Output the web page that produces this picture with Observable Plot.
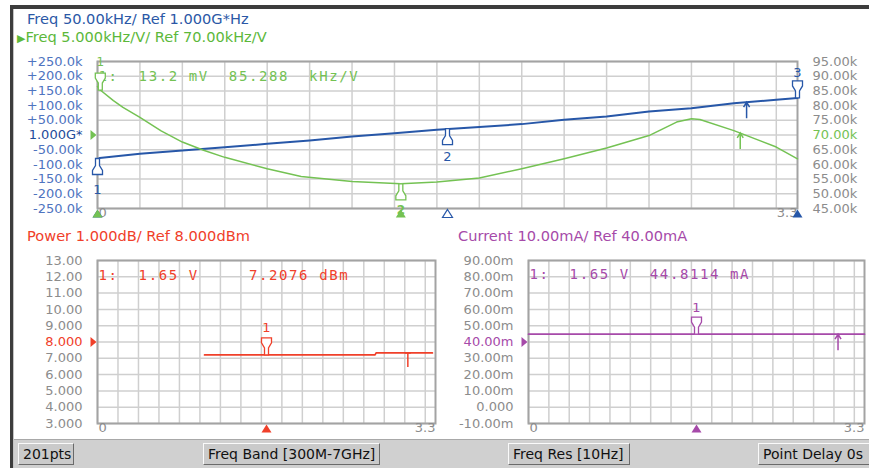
<!DOCTYPE html>
<html><head><meta charset="utf-8">
<script src="https://cdn.jsdelivr.net/npm/d3@7"></script>
<script src="https://cdn.jsdelivr.net/npm/@observablehq/plot@0.6"></script>
<style>
body{margin:0;background:#fff;}
#root{position:relative;width:869px;height:468px;overflow:hidden;background:#fff;font-family:"DejaVu Sans",sans-serif;}
.abs{position:absolute;}
.hdr{position:absolute;font-size:14.6px;line-height:16px;white-space:nowrap;}
.btn{position:absolute;top:443px;height:22px;background:#cacaca;border-top:1px solid #fafafa;border-left:1px solid #fafafa;border-right:1px solid #6a6a6a;border-bottom:1px solid #6a6a6a;font-size:14px;line-height:20px;color:#111;padding:0 4px;box-sizing:border-box;white-space:nowrap;}
</style></head>
<body>
<div id="root">
  <div class="abs" style="left:10px;top:5px;width:859px;height:4px;background:#3d3d3d"></div>
  <div class="abs" style="left:10px;top:5px;width:3px;height:463px;background:#3d3d3d"></div>
  <div class="abs" style="left:13px;top:9px;width:1px;height:459px;background:#c4c4c4"></div>
  <div id="pTop" class="abs" style="left:0;top:0;width:869px;height:225px"></div>
  <div id="pTop2" class="abs" style="left:0;top:0;width:869px;height:225px"></div>
  <div id="pPow" class="abs" style="left:0;top:222px;width:440px;height:218px"></div>
  <div id="pCur" class="abs" style="left:440px;top:222px;width:429px;height:218px"></div>
  <div class="hdr" style="left:27px;top:11px;color:#2b58a6">Freq 50.00kHz/ Ref 1.000G*Hz</div>
  <div class="hdr" style="left:17px;top:29px;color:#5cb83a"><span style="font-size:11px">▶</span>Freq 5.000kHz/V/ Ref 70.00kHz/V</div>
  <div class="hdr" style="left:27px;top:228px;color:#f0402a">Power 1.000dB/ Ref 8.000dBm</div>
  <div class="hdr" style="left:458px;top:228px;color:#a64aa9">Current 10.00mA/ Ref 40.00mA</div>
  <div class="abs" style="left:14px;top:439px;width:855px;height:29px;background:#d0d0d0;border-top:1px solid #a8a8a8"></div>
  <div class="btn" style="left:18px;width:56px">201pts</div>
  <div class="btn" style="left:203px;width:177px">Freq Band [300M-7GHz]</div>
  <div class="btn" style="left:508px;width:122px">Freq Res [10Hz]</div>
  <div class="btn" style="left:758px;width:113px">Point Delay 0s</div>
</div>
<script>
// ---------- data ----------
const gridVolts = [0, 0.2, 0.4, 0.6, 0.8, 1.0, 1.2, 1.4, 1.6, 1.8, 2.0, 2.2, 2.4, 2.6, 2.8, 3.0, 3.2];
const xEndTicks = [0, 3.3];
const xEndLabels = ["0", "3.3"];

// Frequency trace (offset from 1.000 GHz, kHz) vs tuning voltage
const blueTicks = [-250, -200, -150, -100, -50, 0, 50, 100, 150, 200, 250];
const blueTickLabels = ["-250.0k", "-200.0k", "-150.0k", "-100.0k", "-50.00k", "1.000G*", "+50.00k", "+100.0k", "+150.0k", "+200.0k", "+250.0k"];
const blueVolts = [0, 0.01, 0.2, 0.4, 0.6, 0.8, 1.0, 1.2, 1.4, 1.6, 1.8, 2.0, 2.2, 2.4, 2.6, 2.8, 3.0, 3.2, 3.3];
const blueKHz   = [-86, -78, -64, -53, -42, -30, -19, -5, 6, 18, 27, 37, 52, 63, 80, 91, 108, 120, 126];
const blueMarkerVolts = [0, 1.65, 3.3];
const blueMarkerKHz = [-80, 22, 126];
const blueMarkerNames = ["1", "2", "3"];

// Tuning sensitivity trace (kHz/V)
const greenTicks = [45, 50, 55, 60, 65, 70, 75, 80, 85, 90, 95];
const greenTickLabels = ["45.00k", "50.00k", "55.00k", "60.00k", "65.00k", "70.00k", "75.00k", "80.00k", "85.00k", "90.00k", "95.00k"];
const greenVolts = [0, 0.013, 0.075, 0.12, 0.2, 0.3, 0.4, 0.5, 0.6, 0.8, 0.96, 1.2, 1.43, 1.6, 1.8, 2.0, 2.2, 2.4, 2.6, 2.73, 2.8, 2.84, 3.0, 3.2, 3.3];
const greenKHzV = [86.5, 85.3, 81.7, 79.4, 76, 71.4, 67.6, 64.8, 62.4, 58.5, 55.9, 54.2, 53.4, 54, 55.4, 58.5, 61.9, 65.6, 69.8, 74.4, 75.5, 75.3, 71.5, 65.9, 61.9];
const greenMarkerVolts = [0.0132, 1.43];
const greenMarkerKHzV = [85.288, 53.4];

// Output power (dBm)
const powerTicks = [3, 4, 5, 6, 7, 8, 9, 10, 11, 12, 13];
const powerTickLabels = ["3.000", "4.000", "5.000", "6.000", "7.000", "8.000", "9.000", "10.00", "11.00", "12.00", "13.00"];
const powerVolts = [1.045, 2.71, 2.72, 3.27];
const powerDbm   = [7.21, 7.21, 7.33, 7.33];

// Supply current (mA)
const currentTicks = [-10, 0, 10, 20, 30, 40, 50, 60, 70, 80, 90];
const currentTickLabels = ["-10.00m", "0.000", "10.00m", "20.00m", "30.00m", "40.00m", "50.00m", "60.00m", "70.00m", "80.00m", "90.00m"];
const currentVolts = [0, 3.3];
const currentMa    = [44.81, 44.81];

const readoutGreen = "1:  13.2 mV  85.288  kHz/V";
const readoutPower = "1:  1.65 V     7.2076 dBm";
const readoutCurrent = "1:  1.65 V  44.8114 mA";

// ---------- styling ----------
const C = {blue:"#2757a8", blueTick:"#4f74bf", blueRef:"#1e4c9a", green:"#74c253", red:"#f0402a", purple:"#a64aa9",
           grey:"#8c8c8c", grid:"#cfcfcf", frame:"#a3a3a3"};
const FONT = "DejaVu Sans";
const sym = f => ({draw(c) { f(c); }});
const flagUp = sym(c => {c.moveTo(-2,0);c.lineTo(2,0);c.lineTo(2,7);c.lineTo(5,12);c.lineTo(5,16);c.lineTo(-5,16);c.lineTo(-5,12);c.lineTo(-2,7);c.closePath();});
const flagDown = sym(c => {c.moveTo(-2,0);c.lineTo(2,0);c.lineTo(2,-7);c.lineTo(5,-12);c.lineTo(5,-17);c.lineTo(-5,-17);c.lineTo(-5,-12);c.lineTo(-2,-7);c.closePath();});
const triUp = sym(c => {c.moveTo(0,-4);c.lineTo(5,4);c.lineTo(-5,4);c.closePath();});
const triRight = sym(c => {c.moveTo(-3,-5);c.lineTo(3,0);c.lineTo(-3,5);c.closePath();});
const arrowUp = sym(c => {c.moveTo(0,0);c.lineTo(0,16);c.moveTo(-3,5);c.lineTo(0,0);c.lineTo(3,5);});
const teeDown = sym(c => {c.moveTo(-3,0);c.lineTo(3,0);c.moveTo(0,0);c.lineTo(0,14);});

const zip = (xs, ys) => xs.map((x, i) => ({x, y: ys[i]}));

function gridMarks(yTicks) {
  return [
    Plot.ruleX(gridVolts, {stroke: C.grid, strokeWidth: 1.5}),
    Plot.ruleY(yTicks, {stroke: C.grid, strokeWidth: 1.5}),
    Plot.frame({stroke: C.frame, strokeWidth: 2})
  ];
}
function xEnds(dy) {
  return [
    Plot.text([xEndTicks[0]], {x: d => d, text: (d) => xEndLabels[0], frameAnchor: "bottom", dy, dx: 1, textAnchor: "start", fill: C.grey, fontSize: 13, fontFamily: FONT}),
    Plot.text([xEndTicks[1]], {x: d => d, text: (d) => xEndLabels[1], frameAnchor: "bottom", dy, textAnchor: "end", fill: C.grey, fontSize: 13, fontFamily: FONT})
  ];
}
function yLabels(ticks, labels, ref, baseColor, refColor, side, pad) {
  const o = {y: d => d, text: d => labels[ticks.indexOf(d)], frameAnchor: side, dx: side === "left" ? -pad : pad,
             textAnchor: side === "left" ? "end" : "start", fontSize: 13, fontFamily: FONT};
  return [
    Plot.text(ticks.filter(d => d !== ref), {...o, fill: baseColor}),
    Plot.text(ticks.filter(d => d === ref), {...o, fill: refColor})
  ];
}
const base = (w, h, ml, mr, mt, mb) => ({width: w, height: h, marginLeft: ml, marginRight: mr, marginTop: mt, marginBottom: mb,
  style: {background: "transparent", fontFamily: FONT, overflow: "visible"}, x: {domain: [0, 3.3], axis: null}});

// ---------- top panel (frequency, blue) ----------
const blueMk = blueMarkerVolts.map((v, i) => ({x: v, y: blueMarkerKHz[i], n: blueMarkerNames[i]}));
const topBlue = Plot.plot({
  ...base(869, 225, 97, 72, 61, 17),
  y: {domain: [-250, 250], axis: null},
  marks: [
    ...gridMarks(blueTicks),
    ...yLabels(blueTicks, blueTickLabels, 0, C.blueTick, C.blueRef, "left", 15),
    Plot.line(zip(blueVolts, blueKHz), {x: "x", y: "y", stroke: C.blue, strokeWidth: 2}),
    Plot.dot(blueMk.slice(0, 2), {x: "x", y: "y", symbol: flagUp, fill: "white", stroke: C.blue, strokeWidth: 1.3}),
    Plot.dot(blueMk.slice(2), {x: "x", y: "y", symbol: flagDown, fill: "white", stroke: C.blue, strokeWidth: 1.3}),
    Plot.text(blueMk.slice(0, 1), {x: "x", y: "y", text: "n", dy: 31, fill: C.blue, fontSize: 13}),
    Plot.text(blueMk.slice(1, 2), {x: "x", y: "y", text: "n", dy: 28, fill: C.blue, fontSize: 13}),
    Plot.text(blueMk.slice(2), {x: "x", y: "y", text: "n", dy: -25, fill: C.blue, fontSize: 13}),
    Plot.dot([{x: 3.06, y: 111.5}], {x: "x", y: "y", symbol: arrowUp, fill: "none", stroke: C.blue, strokeWidth: 1.5}),
    ...xEnds(8),
    Plot.dot([0, 3.3], {x: d => d, frameAnchor: "bottom", dy: 5, symbol: triUp, fill: C.blue, stroke: "none"}),
    Plot.dot([1.65], {x: d => d, frameAnchor: "bottom", dy: 5, symbol: triUp, fill: "white", stroke: C.blue, strokeWidth: 1.2})
  ]
});
document.getElementById("pTop").appendChild(topBlue);

// ---------- top panel overlay (sensitivity, green) ----------
const greenMk = greenMarkerVolts.map((v, i) => ({x: v, y: greenMarkerKHzV[i]}));
const topGreen = Plot.plot({
  ...base(869, 225, 97, 72, 61, 17),
  y: {domain: [45, 95], axis: null},
  marks: [
    ...yLabels(greenTicks, greenTickLabels, 70, C.grey, C.green, "right", 15),
    Plot.line(zip(greenVolts, greenKHzV), {x: "x", y: "y", stroke: C.green, strokeWidth: 1.5}),
    Plot.dot([70], {y: d => d, frameAnchor: "left", dx: -4, symbol: triRight, fill: C.green, stroke: "none"}),
    Plot.text([readoutGreen], {text: d => d, frameAnchor: "top-left", dx: 1, dy: 10, textAnchor: "start", fill: C.green, fontSize: 14, fontFamily: "DejaVu Sans Mono"}),
    Plot.dot(greenMk.slice(0, 1), {x: "x", y: "y", symbol: flagDown, fill: "white", stroke: C.green, strokeWidth: 1.3}),
    Plot.text(greenMk.slice(0, 1), {x: "x", y: "y", text: d => "1", dy: -28, fill: C.green, fontSize: 12}),
    Plot.dot(greenMk.slice(1), {x: "x", y: "y", symbol: flagUp, fill: "white", stroke: C.green, strokeWidth: 1.3}),
    Plot.dot([0, 1.43], {x: d => d, frameAnchor: "bottom", dy: 5, symbol: triUp, fill: C.green, stroke: "none"}),
    Plot.text([1.43], {x: d => d, text: d => "2", frameAnchor: "bottom", dy: 5, fill: C.green, fontSize: 12, fontWeight: "bold"}),
    Plot.dot([{x: 3.03, y: 70.7}], {x: "x", y: "y", symbol: arrowUp, fill: "none", stroke: C.green, strokeWidth: 1.5})
  ]
});
document.getElementById("pTop2").appendChild(topGreen);

// ---------- power panel (red) ----------
const powMk = [{x: 1.65, y: 7.2076}];
const pow = Plot.plot({
  ...base(440, 218, 97, 5, 38, 17),
  y: {domain: [3, 13], axis: null},
  marks: [
    ...gridMarks(powerTicks),
    ...yLabels(powerTicks, powerTickLabels, 8, C.grey, C.red, "left", 15),
    Plot.line(zip(powerVolts, powerDbm), {x: "x", y: "y", stroke: C.red, strokeWidth: 1.7}),
    Plot.dot([8], {y: d => d, frameAnchor: "left", dx: -4, symbol: triRight, fill: C.red, stroke: "none"}),
    Plot.text([readoutPower], {text: d => d, frameAnchor: "top-left", dx: 1, dy: 10, textAnchor: "start", fill: C.red, fontSize: 14, fontFamily: "DejaVu Sans Mono"}),
    Plot.dot(powMk, {x: "x", y: "y", symbol: flagDown, fill: "white", stroke: C.red, strokeWidth: 1.3}),
    Plot.text(powMk, {x: "x", y: "y", text: d => "1", dy: -27, fill: C.red, fontSize: 13}),
    Plot.dot([{x: 3.03, y: 7.33}], {x: "x", y: "y", symbol: teeDown, fill: "none", stroke: C.red, strokeWidth: 1.5}),
    Plot.dot([1.65], {x: d => d, frameAnchor: "bottom", dy: 5, symbol: triUp, fill: C.red, stroke: "none"}),
    ...xEnds(8)
  ]
});
document.getElementById("pPow").appendChild(pow);

// ---------- current panel (purple) ----------
const curMk = [{x: 1.65, y: 44.8114}];
const cur = Plot.plot({
  ...base(429, 218, 88, 5, 38, 17),
  y: {domain: [-10, 90], axis: null},
  marks: [
    ...gridMarks(currentTicks),
    ...yLabels(currentTicks, currentTickLabels, 40, C.grey, C.purple, "left", 15),
    Plot.line(zip(currentVolts, currentMa), {x: "x", y: "y", stroke: C.purple, strokeWidth: 1.7}),
    Plot.dot([40], {y: d => d, frameAnchor: "left", dx: -4, symbol: triRight, fill: C.purple, stroke: "none"}),
    Plot.text([readoutCurrent], {text: d => d, frameAnchor: "top-left", dx: 1, dy: 9, textAnchor: "start", fill: C.purple, fontSize: 14, fontFamily: "DejaVu Sans Mono"}),
    Plot.dot(curMk, {x: "x", y: "y", symbol: flagDown, fill: "white", stroke: C.purple, strokeWidth: 1.3}),
    Plot.text(curMk, {x: "x", y: "y", text: d => "1", dy: -26, fill: C.purple, fontSize: 13}),
    Plot.dot([{x: 3.04, y: 44.81}], {x: "x", y: "y", symbol: arrowUp, fill: "none", stroke: C.purple, strokeWidth: 1.5}),
    Plot.dot([1.65], {x: d => d, frameAnchor: "bottom", dy: 5, symbol: triUp, fill: C.purple, stroke: "none"}),
    ...xEnds(8)
  ]
});
document.getElementById("pCur").appendChild(cur);

// monospaced readouts: widen letter spacing to match the instrument font
d3.selectAll("svg text").filter(function() { return this.textContent.startsWith("1:"); })
  .style("letter-spacing", "1.6px").style("white-space", "pre");
</script>
</body></html>
